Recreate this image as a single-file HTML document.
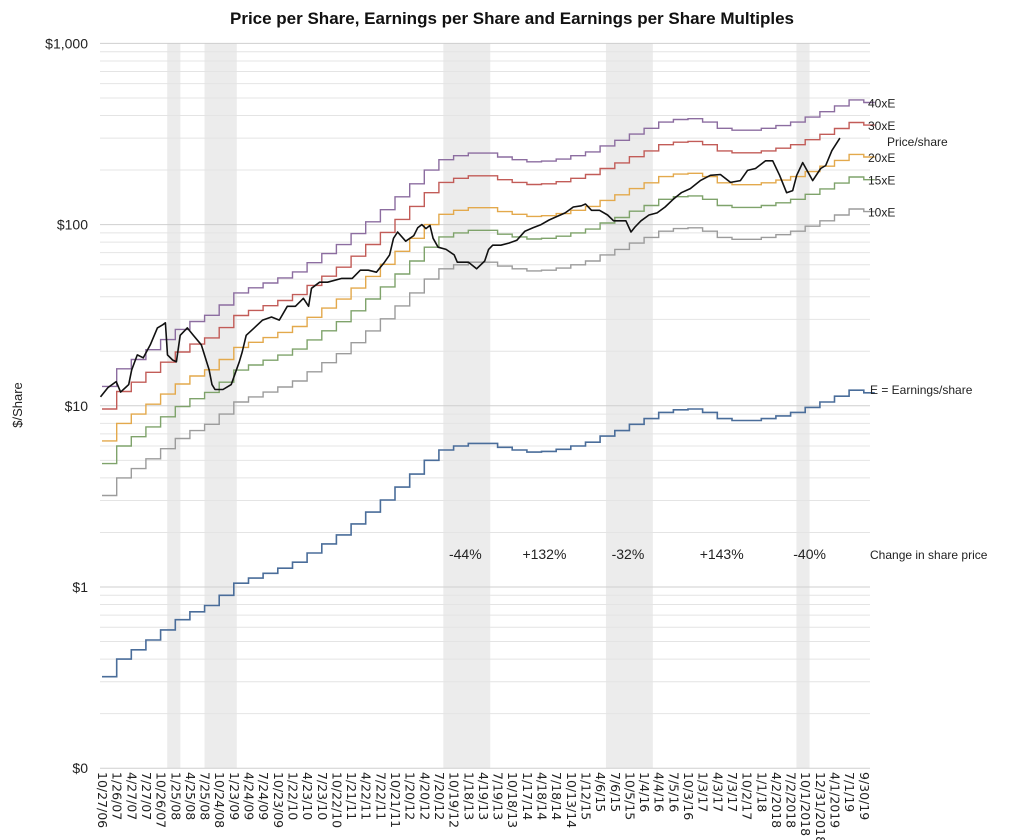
<!DOCTYPE html>
<html><head><meta charset="utf-8"><style>
body{margin:0;background:#fff;}
svg{display:block;font-family:"Liberation Sans",sans-serif;}
</style></head><body>
<svg id="chart" width="1024" height="840">
<text x="512" y="24" text-anchor="middle" font-size="17" font-weight="bold" fill="#111">Price per Share, Earnings per Share and Earnings per Share Multiples</text>
<text transform="translate(22,405) rotate(-90)" text-anchor="middle" font-size="13" fill="#222">$/Share</text>
<g id="bands"></g><g id="grid"></g><g id="ylabels"></g><g id="xlabels"></g><g id="series"></g><g id="notes"></g>
</svg>
<script>
const quarterLabels=["10/27/06","1/26/07","4/27/07","7/27/07","10/26/07","1/25/08","4/25/08","7/25/08","10/24/08","1/23/09","4/24/09","7/24/09","10/23/09","1/22/10","4/23/10","7/23/10","10/22/10","1/21/11","4/22/11","7/22/11","10/21/11","1/20/12","4/20/12","7/20/12","10/19/12","1/18/13","4/19/13","7/19/13","10/18/13","1/17/14","4/18/14","7/18/14","10/13/14","1/12/15","4/6/15","7/6/15","10/5/15","1/4/16","4/4/16","7/5/16","10/3/16","1/3/17","4/3/17","7/3/17","10/2/17","1/1/18","4/2/2018","7/2/2018","10/1/2018","12/31/2018","4/1/2019","7/1/19","9/30/19"];
const eps=[0.32,0.40,0.45,0.51,0.58,0.66,0.73,0.79,0.90,1.05,1.12,1.19,1.27,1.37,1.54,1.73,1.94,2.23,2.59,3.02,3.56,4.2,5.0,5.7,6.0,6.2,6.2,5.9,5.7,5.55,5.6,5.75,6.0,6.3,6.8,7.3,7.9,8.5,9.2,9.5,9.6,9.2,8.5,8.3,8.3,8.5,8.8,9.2,9.8,10.5,11.3,12.2,11.8];
const multiples=[40,30,20,15,10];
const multipleNames=["40xE","30xE","20xE","15xE","10xE"];
const priceQuarter=[-0.1,0.4,0.97,1.27,1.82,2.03,2.41,2.82,3.3,3.78,4.14,4.33,4.47,4.82,5.08,5.34,5.82,6.23,6.78,7.31,7.51,7.71,8.26,8.82,9.37,9.57,9.84,10.39,10.96,11.57,12.1,12.65,13.2,13.75,14.1,14.3,14.85,15.4,16.37,17.08,17.63,18.18,18.73,19.28,19.63,19.9,20.18,20.73,21.28,21.55,21.83,22.11,22.39,22.6,22.94,23.49,24.04,24.25,24.6,25.02,25.57,26.12,26.39,26.67,27.22,27.77,28.32,28.87,29.42,29.97,30.52,31.07,31.62,32.17,32.72,33.0,33.41,33.96,34.51,34.92,35.33,35.76,36.11,36.38,36.79,37.34,37.89,38.44,38.99,39.54,40.16,40.84,41.53,42.21,42.9,43.58,44.06,44.61,45.3,45.78,46.25,46.73,47.15,47.42,47.83,48.51,49.06,49.4,49.82,50.37,51.06];
const priceVals=[11.2,12.6,13.6,11.9,13.1,15.8,19.1,18.4,21.7,26.9,28.0,28.7,19.1,17.9,17.5,24.5,26.9,24.5,21.7,15.8,13.1,12.3,12.3,13.1,17.5,19.8,24.5,26.9,29.7,30.9,29.7,35.4,35.4,39.2,35.4,44.5,48.1,48.1,50.5,50.5,56,56,54.6,62,68,84,91,81,87,96,100,95,99,84,75,73,68,62,62,62,57,63,73,77,77,79,82,92,96,100,106,111,116,125,127,130,120,120,113,105,105,105,91,97,105,113,116,125,138,150,158,175,187,189,171,175,199,204,225,225,187,150,154,187,220,175,204,212,256,300];
const bandRanges=[[4.45,5.35],[7.0,9.2],[23.3,26.5],[34.4,37.6],[47.4,48.3]];
const changeLabels=["-44%","+132%","-32%","+143%","-40%"];
const changeQuarter=[24.8,30.2,35.9,42.3,48.3];

const NS="http://www.w3.org/2000/svg";
const X0=102,DX=14.65,PL=100,PR=870,YT=43,YB=768;
const xq=q=>X0+q*DX;
const yv=v=>587-181.2*Math.log10(v);
function mk(tag,attrs,parent){const e=document.createElementNS(NS,tag);for(const k in attrs)e.setAttribute(k,attrs[k]);parent.appendChild(e);return e;}
const G=id=>document.getElementById(id);

bandRanges.forEach(b=>{
 const r=mk('rect',{x:xq(b[0]),y:YT,width:(b[1]-b[0])*DX,height:YB-YT,fill:'#ececec'},G('bands'));
 
 
});
for(let d=-1;d<3;d++){for(let m=1;m<10;m++){
 const v=m*Math.pow(10,d);const y=yv(v);
 const l=mk('line',{x1:PL,x2:PR,y1:y,y2:y,stroke:m===1?'#cfcfcf':'#e4e4e4','stroke-width':1},G('grid'));
 
 
}}
const tl=mk('line',{x1:PL,x2:PR,y1:yv(1000),y2:yv(1000),stroke:'#cfcfcf'},G('grid'));


[["$1,000",1000],["$100",100],["$10",10],["$1",1],["$0",0.1]].forEach(p=>{
 const t=mk('text',{x:88,y:yv(p[1])+5,'text-anchor':'end','font-size':14,fill:'#222'},G('ylabels'));t.textContent=p[0];
 
 
});
quarterLabels.forEach((s,i)=>{
 const x=xq(i);
 const t=mk('text',{transform:`translate(${x-4},772) rotate(90)`,'font-size':12.5,fill:'#222','font-family':'"DejaVu Sans",sans-serif'},G('xlabels'));t.textContent=s;
 
 
});
function stepPath(vals,mult){
 let d='';vals.forEach((v,i)=>{const y=yv(v*mult);const x1=xq(i),x2=xq(i+1);d+=(i===0?'M':'L')+x1.toFixed(1)+','+y.toFixed(1)+'L'+(i===vals.length-1?xq(i)+11:x2).toFixed(1)+','+y.toFixed(1);});return d;}
const colors=['#8c6da0','#c25c58','#e3a94c','#7fa36b','#9c9c9c'];
multiples.forEach((m,k)=>{
 const p=mk('path',{d:stepPath(eps,m),fill:'none',stroke:colors[k],'stroke-width':1.4},G('series'));
 
 
 const t=mk('text',{x:868,y:yv(eps[eps.length-1]*m)+5,'font-size':12,fill:'#222'},G('notes'));t.textContent=multipleNames[k];
 
 
});
const ep=mk('path',{d:stepPath(eps,1),fill:'none',stroke:'#4a6d9a','stroke-width':1.6},G('series'));


let pd='';priceQuarter.forEach((q,i)=>{pd+=(i?'L':'M')+xq(q).toFixed(1)+','+yv(priceVals[i]).toFixed(1);});
const pl=mk('path',{d:pd,fill:'none',stroke:'#111','stroke-width':1.6,'stroke-linejoin':'round'},G('series'));


const lbls=[["Price/share",887,146],["E = Earnings/share",870,394],["Change in share price",870,559]];
lbls.forEach(a=>{const t=mk('text',{x:a[1],y:a[2],'font-size':12,fill:'#222'},G('notes'));t.textContent=a[0];
 
 });
changeLabels.forEach((s,i)=>{const t=mk('text',{x:xq(changeQuarter[i]),y:559,'text-anchor':'middle','font-size':14,fill:'#222'},G('notes'));t.textContent=s;
 
 });
</script>
</body></html>
